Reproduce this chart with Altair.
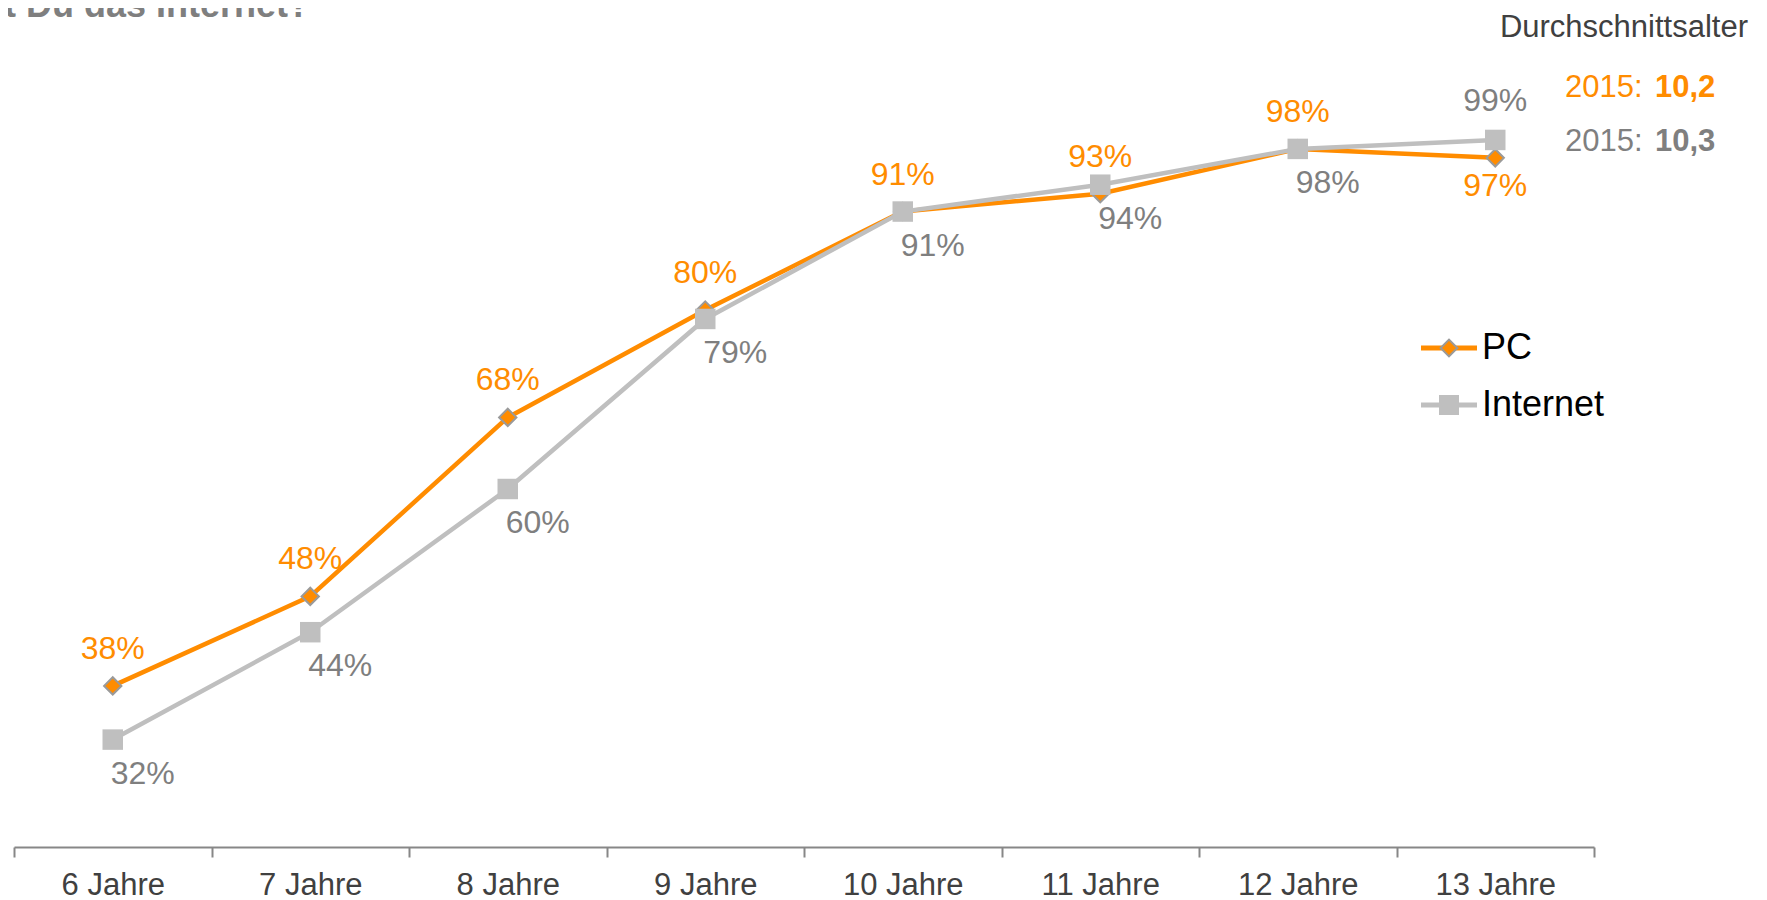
import altair as alt
import pandas as pd

# ---------------- data ----------------
categories = ["6 Jahre", "7 Jahre", "8 Jahre", "9 Jahre", "10 Jahre", "11 Jahre", "12 Jahre", "13 Jahre"]
pc_values = [38, 48, 68, 80, 91, 93, 98, 97]
internet_values = [32, 44, 60, 79, 91, 94, 98, 99]
series_names = ["PC", "Internet"]
pc_label_side = ["above", "above", "above", "above", "above", "above", "above", "below"]
internet_label_side = ["below", "below", "below", "below", "below", "below", "below", "above"]
title_text = ["t Du das Internet?"]
avg_header = ["Durchschnittsalter"]
avg_years = ["2015:", "2015:"]
avg_ages = ["10,2", "10,3"]

# ---------------- styles ----------------
ORANGE = "#FF8C00"
GREY = "#BFBFBF"
GREY_TXT = "#7F7F7F"
DARK_TXT = "#404040"
FONT = "Liberation Sans"
W, H = 1580, 716

rows = []
for c, v, s in zip(categories, pc_values, pc_label_side):
    rows.append({"Alter": c, "Serie": series_names[0], "Wert": v, "Label": f"{v}%", "Seite": s})
for c, v, s in zip(categories, internet_values, internet_label_side):
    rows.append({"Alter": c, "Serie": series_names[1], "Wert": v, "Label": f"{v}%", "Seite": s})
df = pd.DataFrame(rows)

x = alt.X(
    "Alter:N",
    sort=categories,
    scale=alt.Scale(type="band", paddingInner=0, paddingOuter=0),
    axis=alt.Axis(
        title=None, labelAngle=0, tickBand="extent", grid=False,
        labelFont=FONT, labelFontSize=31, labelColor=DARK_TXT, labelPadding=13,
        domainColor="#878787", domainWidth=2, tickColor="#878787", tickWidth=2, tickSize=10,
    ),
)
y = alt.Y("Wert:Q", scale=alt.Scale(domain=[20, 100], nice=False, zero=False), axis=None)

base = alt.Chart(df).encode(x=x, y=y)
is_pc = alt.datum.Serie == series_names[0]
is_inet = alt.datum.Serie == series_names[1]

pc_line = base.transform_filter(is_pc).mark_line(color=ORANGE, strokeWidth=4.5)
inet_line = base.transform_filter(is_inet).mark_line(color=GREY, strokeWidth=4.5)
pc_pts = base.transform_filter(is_pc).mark_point(
    shape="diamond", filled=True, fill=ORANGE, stroke="#9A9A9A", strokeWidth=2, size=300, opacity=1
)
inet_pts = base.transform_filter(is_inet).mark_point(
    shape="square", filled=True, fill=GREY, size=420, opacity=1, strokeWidth=0
)

txt = dict(font=FONT, fontSize=32, baseline="alphabetic", align="center")
pc_lab_a = base.transform_filter(is_pc & (alt.datum.Seite == "above")).mark_text(
    dy=-27, color=ORANGE, **txt).encode(text="Label:N")
pc_lab_b = base.transform_filter(is_pc & (alt.datum.Seite == "below")).mark_text(
    dy=38, color=ORANGE, **txt).encode(text="Label:N")
in_lab_b = base.transform_filter(is_inet & (alt.datum.Seite == "below")).mark_text(
    dx=30, dy=44, color=GREY_TXT, **txt).encode(text="Label:N")
in_lab_a = base.transform_filter(is_inet & (alt.datum.Seite == "above")).mark_text(
    dy=-29, color=GREY_TXT, **txt).encode(text="Label:N")

# ---------------- legend (manual) ----------------
leg_pc = pd.DataFrame({"Serie": [series_names[0]]})
leg_in = pd.DataFrame({"Serie": [series_names[1]]})
lx0, lx1, lmx, ltx = 1407, 1463, 1435, 1468
pc_y, in_y = 217, 274
legend = [
    alt.Chart(leg_pc).mark_rule(color=ORANGE, strokeWidth=5).encode(
        x=alt.value(lx0), x2=alt.value(lx1), y=alt.value(pc_y)),
    alt.Chart(leg_pc).mark_point(shape="diamond", filled=True, fill=ORANGE, stroke="#9A9A9A",
                                 strokeWidth=2, size=280, opacity=1).encode(
        x=alt.value(lmx), y=alt.value(pc_y)),
    alt.Chart(leg_pc).mark_text(font=FONT, fontSize=36, color="#000000", align="left",
                                baseline="middle").encode(
        x=alt.value(ltx), y=alt.value(pc_y), text="Serie:N"),
    alt.Chart(leg_in).mark_rule(color=GREY, strokeWidth=5).encode(
        x=alt.value(lx0), x2=alt.value(lx1), y=alt.value(in_y)),
    alt.Chart(leg_in).mark_point(shape="square", filled=True, fill=GREY, size=400,
                                 opacity=1, strokeWidth=0).encode(
        x=alt.value(lmx), y=alt.value(in_y)),
    alt.Chart(leg_in).mark_text(font=FONT, fontSize=36, color="#000000", align="left",
                                baseline="middle").encode(
        x=alt.value(ltx), y=alt.value(in_y), text="Serie:N"),
]

# ---------------- annotations ----------------
title = alt.Chart(pd.DataFrame({"t": title_text})).mark_text(
    font=FONT, fontSize=36, fontWeight="bold", color=GREY_TXT, align="right", baseline="alphabetic"
).encode(x=alt.value(296), y=alt.value(-114), text="t:N")

header = alt.Chart(pd.DataFrame({"t": avg_header})).mark_text(
    font=FONT, fontSize=31, color=DARK_TXT, align="right", baseline="alphabetic"
).encode(x=alt.value(1734), y=alt.value(-94), text="t:N")

avg_cols = [ORANGE, GREY_TXT]
avg_ys = [-34, 20]
avg_layers = []
for yr, age, col, yy in zip(avg_years, avg_ages, avg_cols, avg_ys):
    d = pd.DataFrame({"j": [yr], "a": [age]})
    avg_layers.append(alt.Chart(d).mark_text(
        font=FONT, fontSize=31, color=col, align="left", baseline="alphabetic"
    ).encode(x=alt.value(1551), y=alt.value(yy), text="j:N"))
    avg_layers.append(alt.Chart(d).mark_text(
        font=FONT, fontSize=31, fontWeight="bold", color=col, align="left", baseline="alphabetic"
    ).encode(x=alt.value(1641), y=alt.value(yy), text="a:N"))

chart = alt.layer(
    pc_line, inet_line, pc_pts, inet_pts,
    pc_lab_a, pc_lab_b, in_lab_b, in_lab_a,
    *legend, title, header, *avg_layers,
).properties(
    width=W, height=H,
    padding={"left": 6, "top": 123, "right": 165, "bottom": 58},
    autosize=alt.AutoSizeParams(type="none"),
).configure_view(stroke="transparent", strokeWidth=0)

chart.save("out.html", embed_options={"renderer": "svg", "actions": False})
